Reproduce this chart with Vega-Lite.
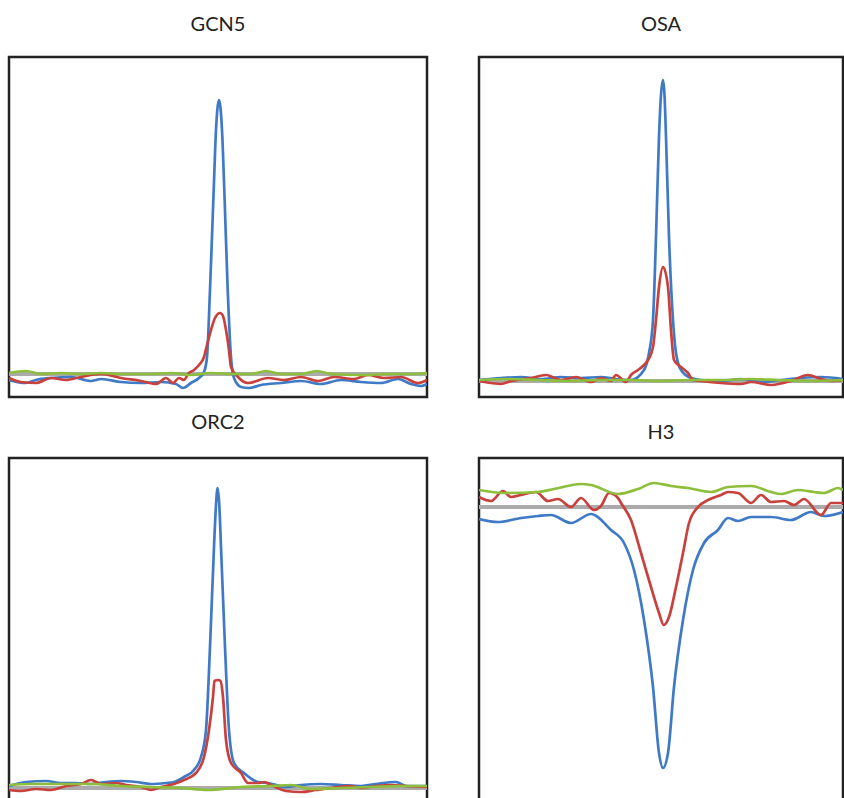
{
  "$schema": "https://vega.github.io/schema/vega-lite/v6.json",
  "background": "white",
  "padding": {"left": 5, "top": 13, "right": 0, "bottom": 0},
  "bounds": "flush",
  "columns": 2,
  "spacing": {"row": 61, "column": 52},
  "config": {
    "view": {"stroke": "#222", "strokeWidth": 2.5},
    "title": {"font": "Lato", "fontSize": 20, "fontWeight": "normal", "color": "#222", "anchor": "middle"}
  },
  "datasets": {
    "GCN5": [
      {"s":"A","x":0,"y":-6},{"s":"A","x":17,"y":-9},{"s":"A","x":27,"y":-6},{"s":"A","x":42,"y":-4},{"s":"A","x":62,"y":-3},{"s":"A","x":82,"y":-7},{"s":"A","x":92,"y":-5},{"s":"A","x":112,"y":-8},{"s":"A","x":132,"y":-9},{"s":"A","x":152,"y":-8},{"s":"A","x":167,"y":-10},{"s":"A","x":174,"y":-14},{"s":"A","x":182,"y":-9},{"s":"A","x":190,"y":-4},{"s":"A","x":195,"y":2},{"s":"A","x":198,"y":17},{"s":"A","x":201,"y":84},{"s":"A","x":204.7,"y":184},{"s":"A","x":207,"y":244},{"s":"A","x":208.5,"y":266},{"s":"A","x":210,"y":274},{"s":"A","x":211.5,"y":266},{"s":"A","x":213,"y":244},{"s":"A","x":215.3,"y":184},{"s":"A","x":218.7,"y":84},{"s":"A","x":222,"y":17},{"s":"A","x":225,"y":-4},{"s":"A","x":232,"y":-13},{"s":"A","x":240,"y":-14},{"s":"A","x":252,"y":-11},{"s":"A","x":272,"y":-9},{"s":"A","x":292,"y":-7},{"s":"A","x":312,"y":-10},{"s":"A","x":332,"y":-6},{"s":"A","x":352,"y":-8},{"s":"A","x":372,"y":-9},{"s":"A","x":389,"y":-5},{"s":"A","x":402,"y":-10},{"s":"A","x":412,"y":-12},{"s":"A","x":418,"y":-10},
      {"s":"B","x":0,"y":-4},{"s":"B","x":12,"y":-8},{"s":"B","x":27,"y":-9},{"s":"B","x":42,"y":-4},{"s":"B","x":57,"y":-6},{"s":"B","x":72,"y":-3},{"s":"B","x":92,"y":0},{"s":"B","x":112,"y":-4},{"s":"B","x":132,"y":-7},{"s":"B","x":147,"y":-10},{"s":"B","x":157,"y":-4},{"s":"B","x":164,"y":-9},{"s":"B","x":170,"y":-4},{"s":"B","x":175,"y":-6},{"s":"B","x":179,"y":0},{"s":"B","x":185,"y":4},{"s":"B","x":190,"y":9},{"s":"B","x":195,"y":17},{"s":"B","x":198,"y":29},{"s":"B","x":202,"y":44},{"s":"B","x":206,"y":56},{"s":"B","x":211,"y":61},{"s":"B","x":214,"y":58},{"s":"B","x":217,"y":44},{"s":"B","x":220,"y":24},{"s":"B","x":222,"y":7},{"s":"B","x":229,"y":-3},{"s":"B","x":239,"y":-9},{"s":"B","x":259,"y":-4},{"s":"B","x":275,"y":-6},{"s":"B","x":292,"y":-3},{"s":"B","x":309,"y":-7},{"s":"B","x":325,"y":-3},{"s":"B","x":345,"y":-5},{"s":"B","x":359,"y":-1},{"s":"B","x":375,"y":-4},{"s":"B","x":392,"y":-3},{"s":"B","x":409,"y":-9},{"s":"B","x":418,"y":-6},
      {"s":"C","x":0,"y":1},{"s":"C","x":17,"y":3},{"s":"C","x":32,"y":0},{"s":"C","x":52,"y":1},{"s":"C","x":72,"y":0},{"s":"C","x":92,"y":1},{"s":"C","x":112,"y":0},{"s":"C","x":142,"y":0},{"s":"C","x":162,"y":1},{"s":"C","x":182,"y":-1},{"s":"C","x":202,"y":1},{"s":"C","x":222,"y":0},{"s":"C","x":242,"y":0},{"s":"C","x":257,"y":3},{"s":"C","x":272,"y":0},{"s":"C","x":292,"y":0},{"s":"C","x":308,"y":3},{"s":"C","x":322,"y":0},{"s":"C","x":352,"y":-1},{"s":"C","x":382,"y":0},{"s":"C","x":402,"y":0},{"s":"C","x":418,"y":1}
    ],
    "OSA": [
      {"s":"A","x":0,"y":1},{"s":"A","x":22,"y":3},{"s":"A","x":42,"y":4},{"s":"A","x":62,"y":2},{"s":"A","x":82,"y":4},{"s":"A","x":102,"y":3},{"s":"A","x":122,"y":4},{"s":"A","x":137,"y":2},{"s":"A","x":152,"y":1},{"s":"A","x":165,"y":11},{"s":"A","x":170,"y":28},{"s":"A","x":174,"y":61},{"s":"A","x":177,"y":144},{"s":"A","x":180,"y":244},{"s":"A","x":182,"y":286},{"s":"A","x":184,"y":301},{"s":"A","x":185.5,"y":286},{"s":"A","x":187,"y":244},{"s":"A","x":190,"y":144},{"s":"A","x":194,"y":61},{"s":"A","x":197,"y":28},{"s":"A","x":202,"y":11},{"s":"A","x":212,"y":3},{"s":"A","x":222,"y":1},{"s":"A","x":242,"y":0},{"s":"A","x":262,"y":2},{"s":"A","x":282,"y":-1},{"s":"A","x":302,"y":1},{"s":"A","x":322,"y":3},{"s":"A","x":342,"y":4},{"s":"A","x":364,"y":2},
      {"s":"B","x":0,"y":0},{"s":"B","x":12,"y":-2},{"s":"B","x":22,"y":-3},{"s":"B","x":32,"y":0},{"s":"B","x":52,"y":3},{"s":"B","x":67,"y":6},{"s":"B","x":82,"y":1},{"s":"B","x":97,"y":4},{"s":"B","x":112,"y":-1},{"s":"B","x":122,"y":3},{"s":"B","x":132,"y":0},{"s":"B","x":137,"y":6},{"s":"B","x":147,"y":-1},{"s":"B","x":152,"y":6},{"s":"B","x":159,"y":11},{"s":"B","x":164,"y":15},{"s":"B","x":169,"y":21},{"s":"B","x":174,"y":34},{"s":"B","x":177,"y":61},{"s":"B","x":180,"y":94},{"s":"B","x":184,"y":114},{"s":"B","x":189,"y":94},{"s":"B","x":192,"y":51},{"s":"B","x":195,"y":21},{"s":"B","x":202,"y":14},{"s":"B","x":209,"y":8},{"s":"B","x":214,"y":1},{"s":"B","x":222,"y":0},{"s":"B","x":242,"y":-2},{"s":"B","x":262,"y":-3},{"s":"B","x":272,"y":-1},{"s":"B","x":292,"y":-4},{"s":"B","x":312,"y":0},{"s":"B","x":329,"y":6},{"s":"B","x":342,"y":2},{"s":"B","x":352,"y":0},{"s":"B","x":364,"y":1},
      {"s":"C","x":0,"y":1},{"s":"C","x":30,"y":2},{"s":"C","x":60,"y":1},{"s":"C","x":90,"y":0},{"s":"C","x":120,"y":1},{"s":"C","x":150,"y":1},{"s":"C","x":180,"y":0},{"s":"C","x":210,"y":1},{"s":"C","x":240,"y":1},{"s":"C","x":270,"y":2},{"s":"C","x":300,"y":1},{"s":"C","x":330,"y":0},{"s":"C","x":364,"y":1}
    ],
    "ORC2": [
      {"s":"A","x":0,"y":2},{"s":"A","x":17,"y":6},{"s":"A","x":37,"y":7},{"s":"A","x":52,"y":5},{"s":"A","x":67,"y":5},{"s":"A","x":82,"y":4},{"s":"A","x":97,"y":6},{"s":"A","x":112,"y":7},{"s":"A","x":127,"y":6},{"s":"A","x":142,"y":4},{"s":"A","x":157,"y":5},{"s":"A","x":165,"y":6},{"s":"A","x":175,"y":11},{"s":"A","x":185,"y":18},{"s":"A","x":192,"y":31},{"s":"A","x":197,"y":58},{"s":"A","x":201,"y":141},{"s":"A","x":205,"y":241},{"s":"A","x":207,"y":283},{"s":"A","x":208.6,"y":300},{"s":"A","x":210.3,"y":283},{"s":"A","x":212,"y":241},{"s":"A","x":216,"y":141},{"s":"A","x":220,"y":58},{"s":"A","x":225,"y":25},{"s":"A","x":235,"y":15},{"s":"A","x":249,"y":6},{"s":"A","x":259,"y":5},{"s":"A","x":277,"y":1},{"s":"A","x":292,"y":3},{"s":"A","x":312,"y":4},{"s":"A","x":332,"y":3},{"s":"A","x":352,"y":2},{"s":"A","x":367,"y":4},{"s":"A","x":387,"y":6},{"s":"A","x":397,"y":2},{"s":"A","x":418,"y":2},
      {"s":"B","x":0,"y":-2},{"s":"B","x":12,"y":-3},{"s":"B","x":27,"y":-1},{"s":"B","x":42,"y":-2},{"s":"B","x":57,"y":2},{"s":"B","x":72,"y":4},{"s":"B","x":82,"y":8},{"s":"B","x":92,"y":4},{"s":"B","x":107,"y":5},{"s":"B","x":117,"y":3},{"s":"B","x":132,"y":1},{"s":"B","x":142,"y":-2},{"s":"B","x":152,"y":1},{"s":"B","x":165,"y":4},{"s":"B","x":175,"y":8},{"s":"B","x":187,"y":15},{"s":"B","x":195,"y":31},{"s":"B","x":200,"y":58},{"s":"B","x":204,"y":91},{"s":"B","x":205.5,"y":107},{"s":"B","x":209,"y":108},{"s":"B","x":211.5,"y":107},{"s":"B","x":214,"y":91},{"s":"B","x":217,"y":48},{"s":"B","x":222,"y":25},{"s":"B","x":232,"y":15},{"s":"B","x":239,"y":5},{"s":"B","x":249,"y":5},{"s":"B","x":255,"y":6},{"s":"B","x":262,"y":3},{"s":"B","x":277,"y":-3},{"s":"B","x":292,"y":-4},{"s":"B","x":307,"y":-2},{"s":"B","x":322,"y":0},{"s":"B","x":342,"y":2},{"s":"B","x":352,"y":0},{"s":"B","x":367,"y":2},{"s":"B","x":382,"y":3},{"s":"B","x":397,"y":2},{"s":"B","x":418,"y":1},
      {"s":"C","x":0,"y":3},{"s":"C","x":22,"y":4},{"s":"C","x":52,"y":4},{"s":"C","x":82,"y":4},{"s":"C","x":112,"y":2},{"s":"C","x":142,"y":1},{"s":"C","x":172,"y":0},{"s":"C","x":199,"y":-2},{"s":"C","x":232,"y":1},{"s":"C","x":262,"y":2},{"s":"C","x":282,"y":3},{"s":"C","x":302,"y":-1},{"s":"C","x":332,"y":0},{"s":"C","x":362,"y":1},{"s":"C","x":392,"y":2},{"s":"C","x":418,"y":2}
    ],
    "H3": [
      {"s":"A","x":0,"y":-12},{"s":"A","x":19,"y":-15},{"s":"A","x":42,"y":-11},{"s":"A","x":59,"y":-9},{"s":"A","x":72,"y":-8},{"s":"A","x":92,"y":-16},{"s":"A","x":112,"y":-7},{"s":"A","x":132,"y":-23},{"s":"A","x":145,"y":-36},{"s":"A","x":155,"y":-63},{"s":"A","x":165,"y":-113},{"s":"A","x":174,"y":-180},{"s":"A","x":180,"y":-246},{"s":"A","x":184,"y":-261},{"s":"A","x":189,"y":-246},{"s":"A","x":195,"y":-180},{"s":"A","x":204,"y":-113},{"s":"A","x":214,"y":-63},{"s":"A","x":225,"y":-36},{"s":"A","x":239,"y":-23},{"s":"A","x":249,"y":-11},{"s":"A","x":259,"y":-14},{"s":"A","x":272,"y":-10},{"s":"A","x":292,"y":-10},{"s":"A","x":312,"y":-13},{"s":"A","x":332,"y":-5},{"s":"A","x":345,"y":-9},{"s":"A","x":364,"y":-5},
      {"s":"B","x":0,"y":10},{"s":"B","x":12,"y":6},{"s":"B","x":24,"y":16},{"s":"B","x":32,"y":10},{"s":"B","x":42,"y":12},{"s":"B","x":57,"y":15},{"s":"B","x":69,"y":6},{"s":"B","x":79,"y":8},{"s":"B","x":92,"y":0},{"s":"B","x":102,"y":9},{"s":"B","x":115,"y":-3},{"s":"B","x":122,"y":1},{"s":"B","x":130,"y":14},{"s":"B","x":139,"y":9},{"s":"B","x":142,"y":4},{"s":"B","x":152,"y":-13},{"s":"B","x":162,"y":-46},{"s":"B","x":172,"y":-80},{"s":"B","x":180,"y":-106},{"s":"B","x":184.7,"y":-118},{"s":"B","x":190,"y":-110},{"s":"B","x":197,"y":-80},{"s":"B","x":204,"y":-46},{"s":"B","x":210,"y":-16},{"s":"B","x":219,"y":0},{"s":"B","x":229,"y":7},{"s":"B","x":242,"y":12},{"s":"B","x":249,"y":15},{"s":"B","x":259,"y":14},{"s":"B","x":272,"y":4},{"s":"B","x":282,"y":12},{"s":"B","x":292,"y":5},{"s":"B","x":305,"y":6},{"s":"B","x":315,"y":2},{"s":"B","x":325,"y":8},{"s":"B","x":342,"y":-8},{"s":"B","x":352,"y":4},{"s":"B","x":364,"y":4},
      {"s":"C","x":0,"y":17},{"s":"C","x":25,"y":14},{"s":"C","x":59,"y":15},{"s":"C","x":75,"y":18},{"s":"C","x":102,"y":23},{"s":"C","x":112,"y":22},{"s":"C","x":139,"y":13},{"s":"C","x":159,"y":18},{"s":"C","x":175,"y":24},{"s":"C","x":192,"y":21},{"s":"C","x":209,"y":19},{"s":"C","x":232,"y":15},{"s":"C","x":249,"y":20},{"s":"C","x":272,"y":21},{"s":"C","x":292,"y":15},{"s":"C","x":302,"y":13},{"s":"C","x":319,"y":17},{"s":"C","x":335,"y":15},{"s":"C","x":345,"y":14},{"s":"C","x":359,"y":19},{"s":"C","x":364,"y":17}
    ]
  },
  "concat": [
    {
      "title": {"text": "GCN5", "offset": 22},
      "width": 418, "height": 340,
      "data": {"name": "GCN5"},
      "layer": [
        {"mark": {"type": "rule", "color": "#aaaaaa", "strokeWidth": 4, "strokeDash": [1, 0.5]}, "encoding": {"y": {"datum": 0, "type": "quantitative", "scale": {"domain": [-23, 317], "nice": false, "zero": false}, "axis": null}}},
        {"mark": {"type": "line", "strokeWidth": 2.7, "interpolate": "monotone", "clip": true},
         "encoding": {
           "x": {"field": "x", "type": "quantitative", "scale": {"domain": [0, 418], "nice": false, "zero": false}, "axis": null},
           "y": {"field": "y", "type": "quantitative", "scale": {"domain": [-23, 317], "nice": false, "zero": false}, "axis": null},
           "color": {"field": "s", "type": "nominal", "scale": {"domain": ["A", "B", "C"], "range": ["#3f7ac6", "#c9413d", "#8dbf3c"]}, "legend": null}
         }}
      ]
    },
    {
      "title": {"text": "OSA", "offset": 22},
      "width": 364, "height": 340,
      "data": {"name": "OSA"},
      "layer": [
        {"mark": {"type": "rule", "color": "#aaaaaa", "strokeWidth": 4, "strokeDash": [1, 0.5]}, "encoding": {"y": {"datum": 0, "type": "quantitative", "scale": {"domain": [-16, 324], "nice": false, "zero": false}, "axis": null}}},
        {"mark": {"type": "line", "strokeWidth": 2.7, "interpolate": "monotone", "clip": true},
         "encoding": {
           "x": {"field": "x", "type": "quantitative", "scale": {"domain": [0, 364], "nice": false, "zero": false}, "axis": null},
           "y": {"field": "y", "type": "quantitative", "scale": {"domain": [-16, 324], "nice": false, "zero": false}, "axis": null},
           "color": {"field": "s", "type": "nominal", "scale": {"domain": ["A", "B", "C"], "range": ["#3f7ac6", "#c9413d", "#8dbf3c"]}, "legend": null}
         }}
      ]
    },
    {
      "title": {"text": "ORC2", "offset": 25},
      "width": 418, "height": 344,
      "data": {"name": "ORC2"},
      "layer": [
        {"mark": {"type": "rule", "color": "#aaaaaa", "strokeWidth": 4, "strokeDash": [1, 0.5]}, "encoding": {"y": {"datum": 0, "type": "quantitative", "scale": {"domain": [-14, 330], "nice": false, "zero": false}, "axis": null}}},
        {"mark": {"type": "line", "strokeWidth": 2.7, "interpolate": "monotone", "clip": true},
         "encoding": {
           "x": {"field": "x", "type": "quantitative", "scale": {"domain": [0, 418], "nice": false, "zero": false}, "axis": null},
           "y": {"field": "y", "type": "quantitative", "scale": {"domain": [-14, 330], "nice": false, "zero": false}, "axis": null},
           "color": {"field": "s", "type": "nominal", "scale": {"domain": ["A", "B", "C"], "range": ["#3f7ac6", "#c9413d", "#8dbf3c"]}, "legend": null}
         }}
      ]
    },
    {
      "title": {"text": "H3", "offset": 15},
      "width": 364, "height": 344,
      "data": {"name": "H3"},
      "layer": [
        {"mark": {"type": "rule", "color": "#aaaaaa", "strokeWidth": 4, "strokeDash": [1, 0.5]}, "encoding": {"y": {"datum": 0, "type": "quantitative", "scale": {"domain": [-295, 49], "nice": false, "zero": false}, "axis": null}}},
        {"mark": {"type": "line", "strokeWidth": 2.7, "interpolate": "monotone", "clip": true},
         "encoding": {
           "x": {"field": "x", "type": "quantitative", "scale": {"domain": [0, 364], "nice": false, "zero": false}, "axis": null},
           "y": {"field": "y", "type": "quantitative", "scale": {"domain": [-295, 49], "nice": false, "zero": false}, "axis": null},
           "color": {"field": "s", "type": "nominal", "scale": {"domain": ["A", "B", "C"], "range": ["#3f7ac6", "#c9413d", "#8dbf3c"]}, "legend": null}
         }}
      ]
    }
  ]
}
